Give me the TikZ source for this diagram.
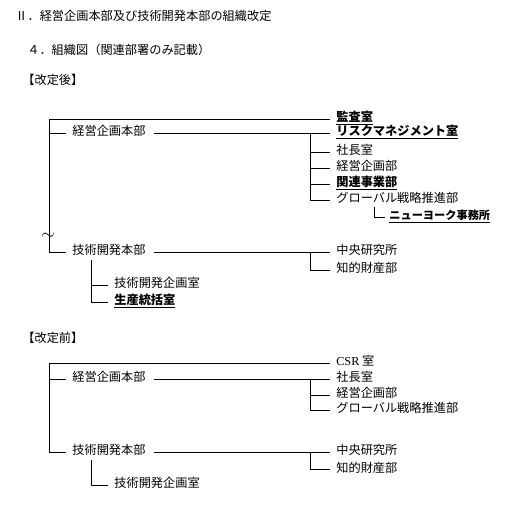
\documentclass[tikz,border=0pt]{standalone}
\usepackage{fontspec}
\newfontfamily\jp{Noto Sans CJK JP}
\newfontfamily\lat{Liberation Serif}
\begin{document}
\begin{tikzpicture}[x=1pt,y=-1pt,line width=0.7pt,
	unit/.style={anchor=west,inner sep=0pt,text height=9pt,text depth=3pt,font=\jp\fontsize{12.2}{14}\selectfont},
	link/.style={shorten >=6pt}]
	\newcommand{\bu}[1]{\underline{\bfseries #1}}
	\useasboundingbox (0,0) rectangle (531,505);
	
	% headings
	\node[unit] (title)  at (15,18)  {Ⅱ．経営企画本部及び技術開発本部の組織改定};
	\node[unit] (chart)  at (27,52)  {４．組織図（関連部署のみ記載）};
	\node[unit] (after)  at (22,82)  {【改定後】};
	\node[unit] (before) at (22,340) {【改定前】};
	
	% after
	\coordinate (A)   at (49,119);
	\coordinate (Akei) at (49,133);
	\coordinate (Akj) at (310,133);
	\coordinate (Agj) at (310,252);
	\coordinate (Agk) at (91,260);
	\coordinate (Anyj) at (374,207);
	
	\node[unit] (aKansa)   at (336,119) {\bu{監査室}};
	\node[unit] (aKeiHQ)   at (72,133)  {経営企画本部};
	\node[unit] (aRisk)    at (336,133) {\bu{リスクマネジメント室}};
	\node[unit] (aShacho)  at (336,152) {社長室};
	\node[unit] (aKeiki)   at (336,168) {経営企画部};
	\node[unit] (aKanren)  at (336,184) {\bu{関連事業部}};
	\node[unit] (aGlobal)  at (336,200) {グローバル戦略推進部};
	\node[unit,font=\jp\fontsize{11.2}{13}\selectfont] (aNY) at (389,217) {\bu{ニューヨーク事務所}};
	\node[unit] (aGiHQ)    at (72,252)  {技術開発本部};
	\node[unit] (aChuo)    at (336,252) {中央研究所};
	\node[unit] (aChiteki) at (336,270) {知的財産部};
	\node[unit] (aGiki)    at (114,285) {技術開発企画室};
	\node[unit] (aSeisan)  at (114,302) {\bu{生産統括室}};
	\node[inner sep=0pt,font=\fontsize{16}{16}\selectfont] (aWave) at (48,236) {$\sim$};
	
	\draw[link] (A) -- (aKansa.west);
	\draw[link] (A) |- (aGiHQ.west);
	\draw[link] (Akei) -- (aKeiHQ.west);
	\draw[link,shorten <=8pt] (aKeiHQ.east) -- (aRisk.west);
	\draw[link] (Akj) |- (aGlobal.west);
	\foreach \n in {aShacho,aKeiki,aKanren} \draw[link] (Akj |- \n.west) -- (\n.west);
	\draw[link,shorten >=4pt] (Anyj) |- (aNY.west);
	\draw[link,shorten <=8pt] (aGiHQ.east) -- (aChuo.west);
	\draw[link] (Agj) |- (aChiteki.west);
	\draw[link] (Agk) |- (aSeisan.west);
	\draw[link] (Agk |- aGiki.west) -- (aGiki.west);
	
	% before
	\coordinate (B)   at (49,363);
	\coordinate (Bkei) at (49,379);
	\coordinate (Bkj) at (310,379);
	\coordinate (Bgj) at (310,452);
	\coordinate (Bgk) at (91,460);
	
	\node[unit] (bCsr)     at (336,363) {{\lat CSR} 室};
	\node[unit] (bKeiHQ)   at (72,379)  {経営企画本部};
	\node[unit] (bShacho)  at (336,379) {社長室};
	\node[unit] (bKeiki)   at (336,395) {経営企画部};
	\node[unit] (bGlobal)  at (336,410) {グローバル戦略推進部};
	\node[unit] (bGiHQ)    at (72,452)  {技術開発本部};
	\node[unit] (bChuo)    at (336,452) {中央研究所};
	\node[unit] (bChiteki) at (336,469) {知的財産部};
	\node[unit] (bGiki)    at (114,485) {技術開発企画室};
	
	\draw[link] (B) -- (bCsr.west);
	\draw[link] (B) |- (bGiHQ.west);
	\draw[link] (Bkei) -- (bKeiHQ.west);
	\draw[link,shorten <=8pt] (bKeiHQ.east) -- (bShacho.west);
	\draw[link] (Bkj) |- (bGlobal.west);
	\draw[link] (Bkj |- bKeiki.west) -- (bKeiki.west);
	\draw[link,shorten <=8pt] (bGiHQ.east) -- (bChuo.west);
	\draw[link] (Bgj) |- (bChiteki.west);
	\draw[link] (Bgk) |- (bGiki.west);
\end{tikzpicture}
\end{document}
